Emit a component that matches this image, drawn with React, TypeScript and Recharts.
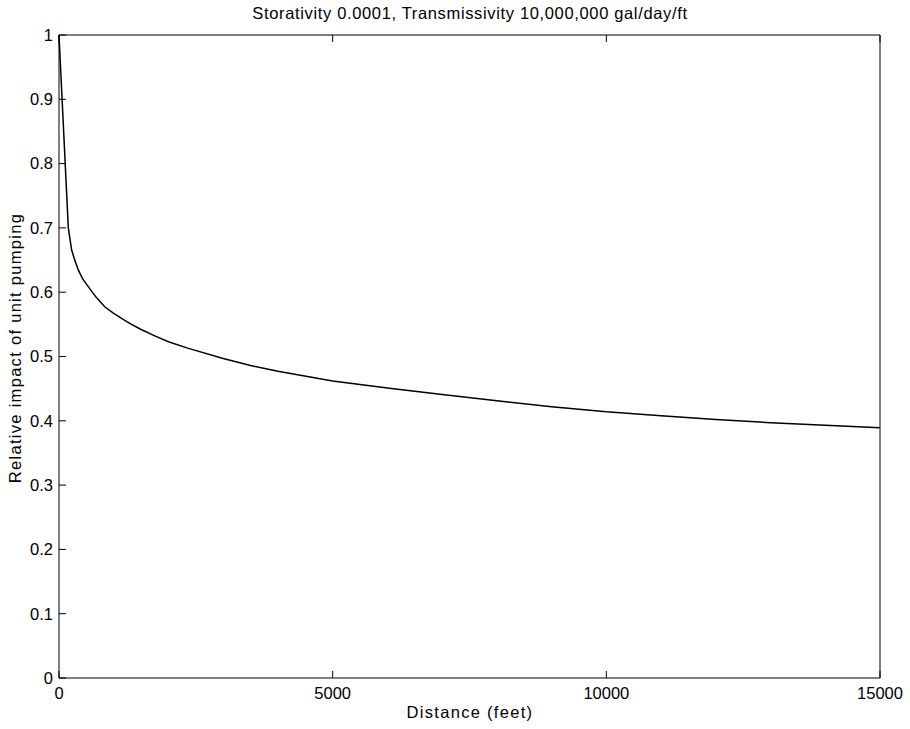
import { LineChart, Line, XAxis, YAxis, Label } from "recharts"

const TITLE = "Storativity 0.0001, Transmissivity 10,000,000 gal/day/ft"
const X_LABEL = "Distance (feet)"
const Y_LABEL = "Relative impact of unit pumping"

const distance = [
  0, 170, 230, 280, 350, 430, 530, 680, 840, 1000, 1150, 1300, 1500, 1750, 2000,
  2350, 3000, 3500, 4000, 5000, 6000, 7000, 8000, 9000, 10000, 11000, 12000,
  13000, 14000, 15000,
]
const impact = [
  1.0, 0.7, 0.666, 0.652, 0.635, 0.621, 0.609, 0.592, 0.577, 0.567, 0.559, 0.551,
  0.542, 0.532, 0.523, 0.513, 0.497, 0.486, 0.477, 0.462, 0.451, 0.441, 0.431,
  0.422, 0.414, 0.408, 0.402, 0.397, 0.393, 0.389,
]

const X_TICKS = [0, 5000, 10000, 15000]
const Y_TICKS = [0, 0.1, 0.2, 0.3, 0.4, 0.5, 0.6, 0.7, 0.8, 0.9, 1]

const data = distance.map((d, i) => ({ d, v: impact[i] }))

const FONT = "'Liberation Sans', Arial, Helvetica, sans-serif"
const tickStyle = { fontSize: 16.5, fill: "#000", fontFamily: FONT }

export default function App() {
  return (
    <div style={{ position: "absolute", left: 0, top: 0, background: "#fff" }}>
      <LineChart width={910} height={729} data={data} margin={{ top: 0, right: 0, bottom: 0, left: 9 }}>
        <XAxis
          xAxisId="bottom"
          dataKey="d"
          type="number"
          domain={[0, 15000]}
          ticks={X_TICKS}
          height={51}
          stroke="#000"
          tickSize={-7}
          tickMargin={16}
          tick={tickStyle}
        >
          <Label
            content={() => (
              <text x={470} y={718} textAnchor="middle" fontSize={16.5} letterSpacing={1.3} fontFamily={FONT} fill="#000">
                {X_LABEL}
              </text>
            )}
          />
        </XAxis>
        <XAxis
          xAxisId="top"
          orientation="top"
          dataKey="d"
          type="number"
          domain={[0, 15000]}
          ticks={X_TICKS}
          height={35}
          stroke="#000"
          tickSize={-7}
          tickFormatter={() => ""}
        >
          <Label
            content={() => (
              <text x={470} y={19} textAnchor="middle" fontSize={16.5} letterSpacing={0.65} fontFamily={FONT} fill="#000">
                {TITLE}
              </text>
            )}
          />
        </XAxis>
        <YAxis
          yAxisId="left"
          type="number"
          domain={[0, 1]}
          ticks={Y_TICKS}
          width={50}
          stroke="#000"
          tickSize={-7}
          tickMargin={13}
          tick={tickStyle}
          tickFormatter={(v) => String(v)}
        >
          <Label
            content={() => (
              <text
                x={0}
                y={0}
                transform="translate(21,348) rotate(-90)"
                textAnchor="middle"
                fontSize={16.5}
                letterSpacing={1.3}
                fontFamily={FONT}
                fill="#000"
              >
                {Y_LABEL}
              </text>
            )}
          />
        </YAxis>
        <YAxis
          yAxisId="right"
          orientation="right"
          type="number"
          domain={[0, 1]}
          ticks={Y_TICKS}
          width={30}
          stroke="#000"
          tickSize={-7}
          tickFormatter={() => ""}
        />
        <Line
          xAxisId="bottom"
          yAxisId="left"
          dataKey="v"
          type="linear"
          stroke="#000"
          strokeWidth={1.5}
          dot={false}
          isAnimationActive={false}
        />
      </LineChart>
    </div>
  )
}
